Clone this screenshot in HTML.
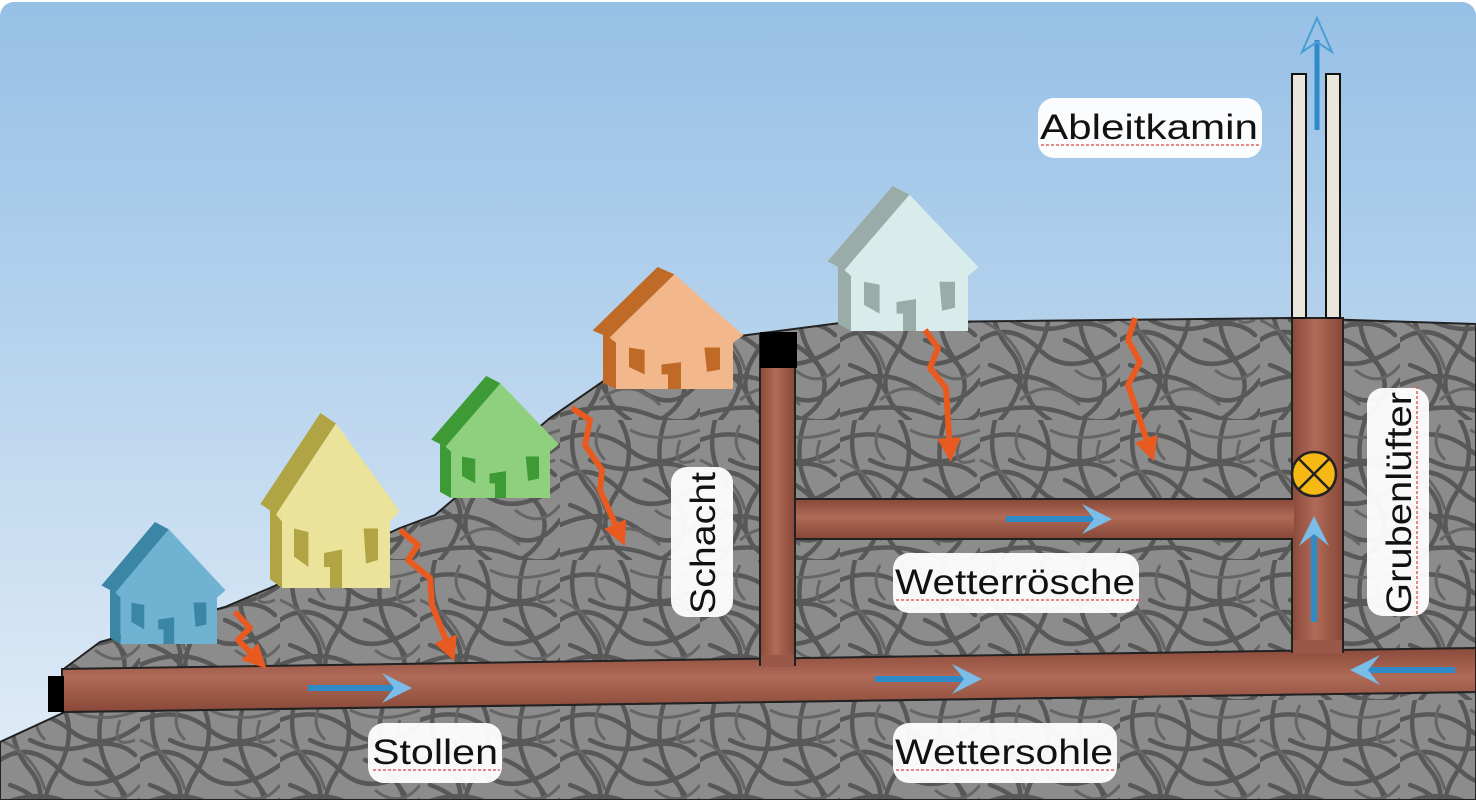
<!DOCTYPE html>
<html><head><meta charset="utf-8"><style>
html,body{margin:0;padding:0;background:#fff;}
svg{display:block;}
text{font-family:"Liberation Sans","DejaVu Sans",sans-serif;}
</style></head><body>
<svg width="1476" height="800" viewBox="0 0 1476 800" xmlns="http://www.w3.org/2000/svg">
<defs>
<linearGradient id="sky" x1="0" y1="0" x2="0" y2="1">
<stop offset="0" stop-color="#96c0e6"/><stop offset="0.5" stop-color="#bcd6ee"/><stop offset="1" stop-color="#e4eef8"/>
</linearGradient>
<linearGradient id="tubeH" x1="0" y1="0" x2="0" y2="1">
<stop offset="0" stop-color="#8a4a3a"/><stop offset="0.45" stop-color="#b06a58"/><stop offset="1" stop-color="#884838"/>
</linearGradient>
<linearGradient id="tubeV" x1="0" y1="0" x2="1" y2="0">
<stop offset="0" stop-color="#8a4a3a"/><stop offset="0.45" stop-color="#b06a58"/><stop offset="1" stop-color="#884838"/>
</linearGradient>
<pattern id="rock" width="140" height="140" patternUnits="userSpaceOnUse">
<rect width="140" height="140" fill="#8c8c8c"/>
<g fill="none" stroke="#585858" stroke-width="4.5" stroke-linecap="round">
<path d="M0 20 Q40 5 70 30 T140 25"/>
<path d="M0 60 Q30 40 60 70 T140 65"/>
<path d="M0 105 Q45 85 80 110 T140 100"/>
<path d="M15 0 Q5 40 30 70 T20 140"/>
<path d="M60 0 Q80 35 55 75 T70 140"/>
<path d="M105 0 Q90 45 115 80 T100 140"/>
<path d="M0 135 Q50 120 90 135 T140 130"/>
<path d="M30 40 Q60 55 90 45 Q120 40 135 55"/>
<path d="M10 85 Q40 95 50 120"/>
<path d="M85 60 Q110 70 125 95"/>
</g>
<g fill="none" stroke="#656565" stroke-width="3">
<path d="M0 40 Q35 55 45 90"/>
<path d="M70 10 Q100 25 140 10"/>
<path d="M40 120 Q70 95 100 125"/>
<path d="M95 90 Q120 110 140 85"/>
<path d="M120 20 Q110 50 135 40"/>
<path d="M40 5 Q30 25 45 40"/>
</g>
</pattern>
<g id="house">
<polygon points="0,55 10,50 10,100 0,95" fill="var(--d)"/>
<rect x="10" y="50" width="90" height="50" fill="var(--b)"/>
<polygon points="-8,52 42,0 55,6 5,58" fill="var(--d)"/>
<polygon points="5,58 55,6 108,56" fill="var(--b)"/>
<polygon points="5,58 108,56 100,62 10,62" fill="var(--b)"/>
<polygon points="20,66 32,68 32,88 20,82" fill="var(--d)"/>
<polygon points="78,66 90,66 90,84 80,86" fill="var(--d)"/>
<polygon points="45,80 60,78 60,100 50,100 50,88 45,88" fill="var(--d)"/>
</g>
<marker id="ah" viewBox="0 0 10 10" refX="6" refY="5" markerWidth="5" markerHeight="5" orient="auto"><path d="M0 0 L10 5 L0 10 L4 5 Z" fill="#79bde8"/></marker>
<marker id="oh" viewBox="0 0 10 10" refX="5" refY="5" markerWidth="4" markerHeight="4" orient="auto"><path d="M0 0 L10 5 L0 10 Z" fill="#e85a20"/></marker>
</defs>
<rect x="0" y="2" width="1476" height="798" rx="14" fill="url(#sky)"/>
<polygon points="0,742 65,712 1476,692 1476,800 0,800" fill="url(#rock)" stroke="#222" stroke-width="2"/>
<polygon points="65,668 100,642 225,607 270,588 400,528 435,515 550,418 605,380 740,336 840,323 1290,318 1476,324 1476,650 65,670" fill="url(#rock)" stroke="#222" stroke-width="2"/>
<polygon points="62,669 1476,648 1476,692 62,712" fill="url(#tubeH)" stroke="#222" stroke-width="2"/>
<rect x="48" y="676" width="16" height="36" fill="#000"/>
<rect x="795" y="499" width="500" height="40" fill="url(#tubeH)" stroke="#222" stroke-width="2"/>
<rect x="760" y="335" width="35" height="330" fill="url(#tubeV)" stroke="#222" stroke-width="2"/>
<rect x="760" y="332" width="37" height="36" fill="#000"/>
<rect x="1292" y="318" width="51" height="334" fill="url(#tubeV)" stroke="#222" stroke-width="2"/>
<rect x="796" y="500" width="498" height="38" fill="url(#tubeH)"/>
<rect x="761" y="655" width="33" height="12" fill="#9a5848"/>
<rect x="1293" y="640" width="49" height="14" fill="#9a5848"/>
<rect x="1292" y="74" width="14" height="244" fill="#ebe6dc" stroke="#111" stroke-width="2"/>
<rect x="1326" y="74" width="14" height="244" fill="#ebe6dc" stroke="#111" stroke-width="2"/>
<line x1="1317" y1="130" x2="1317" y2="40" stroke="#2f8bc8" stroke-width="5"/>
<path d="M1302 52 L1317 18 L1332 52 L1317 42 Z" fill="none" stroke="#4a9ed4" stroke-width="2"/>
<circle cx="1314" cy="474" r="22" fill="#f6b914" stroke="#222" stroke-width="2.5"/>
<line x1="1298" y1="458" x2="1330" y2="490" stroke="#222" stroke-width="2.5"/>
<line x1="1330" y1="458" x2="1298" y2="490" stroke="#222" stroke-width="2.5"/>
<g stroke="#2f8bc8" stroke-width="6" fill="none">
<line x1="308" y1="688" x2="400" y2="688" marker-end="url(#ah)"/>
<line x1="875" y1="679" x2="970" y2="679" marker-end="url(#ah)"/>
<line x1="1006" y1="519" x2="1100" y2="519" marker-end="url(#ah)"/>
<line x1="1455" y1="670" x2="1362" y2="670" marker-end="url(#ah)"/>
<line x1="1314" y1="622" x2="1314" y2="528" marker-end="url(#ah)"/>
</g>
<use href="#house" transform="translate(110,522) scale(1.07,1.22)" style="--b:#6fb2d2;--d:#3a86a4"/>
<use href="#house" transform="translate(270,413) scale(1.2,1.75)" style="--b:#ece39a;--d:#b0a444"/>
<use href="#house" transform="translate(440,376) scale(1.1,1.22)" style="--b:#8fd07e;--d:#3e9a34"/>
<use href="#house" transform="translate(603,267) scale(1.3,1.22)" style="--b:#f2b78a;--d:#c06a28"/>
<use href="#house" transform="translate(838,186) scale(1.3,1.45)" style="--b:#d8eceb;--d:#9aaca8"/>
<g stroke="#e85a20" stroke-width="6" fill="none" stroke-linejoin="round">
<path d="M235 612 L250 628 L238 640 L258 660" marker-end="url(#oh)"/>
<path d="M400 530 L418 545 L408 560 L430 578 L432 605 L450 650" marker-end="url(#oh)"/>
<path d="M572 408 L590 420 L585 445 L602 470 L600 490 L620 535" marker-end="url(#oh)"/>
<path d="M925 330 L938 348 L930 368 L946 388 L950 450" marker-end="url(#oh)"/>
<path d="M1135 318 L1128 340 L1140 362 L1128 385 L1150 450" marker-end="url(#oh)"/>
</g>
<g fill="#fff" opacity="0.95">
<rect x="1038" y="98" width="224" height="60" rx="16"/>
<rect x="368" y="723" width="134" height="60" rx="16"/>
<rect x="893" y="723" width="224" height="60" rx="16"/>
<rect x="893" y="553" width="246" height="60" rx="16"/>
<rect x="671" y="467" width="62" height="150" rx="16"/>
<rect x="1367" y="388" width="62" height="228" rx="16"/>
</g>
<g font-size="35" fill="#111">
<text x="1040" y="139" textLength="218" lengthAdjust="spacingAndGlyphs">Ableitkamin</text>
<text x="372" y="764" textLength="126" lengthAdjust="spacingAndGlyphs">Stollen</text>
<text x="895" y="764" textLength="218" lengthAdjust="spacingAndGlyphs">Wettersohle</text>
<text x="895" y="594" textLength="240" lengthAdjust="spacingAndGlyphs">Wetterrösche</text>
<text transform="translate(715,614) rotate(-90)" textLength="142" lengthAdjust="spacingAndGlyphs">Schacht</text>
<text transform="translate(1411,614) rotate(-90)" textLength="222" lengthAdjust="spacingAndGlyphs">Grubenlüfter</text>
</g>
<g stroke="#e06060" stroke-width="1.5" fill="none" stroke-dasharray="3 2">
<line x1="1041" y1="145" x2="1260" y2="145"/>
<line x1="373" y1="770" x2="500" y2="770"/>
<line x1="896" y1="770" x2="1115" y2="770"/>
<line x1="896" y1="600" x2="1140" y2="600"/>
<line x1="1417" y1="614" x2="1417" y2="385"/>
</g>
</svg>
</body></html>
